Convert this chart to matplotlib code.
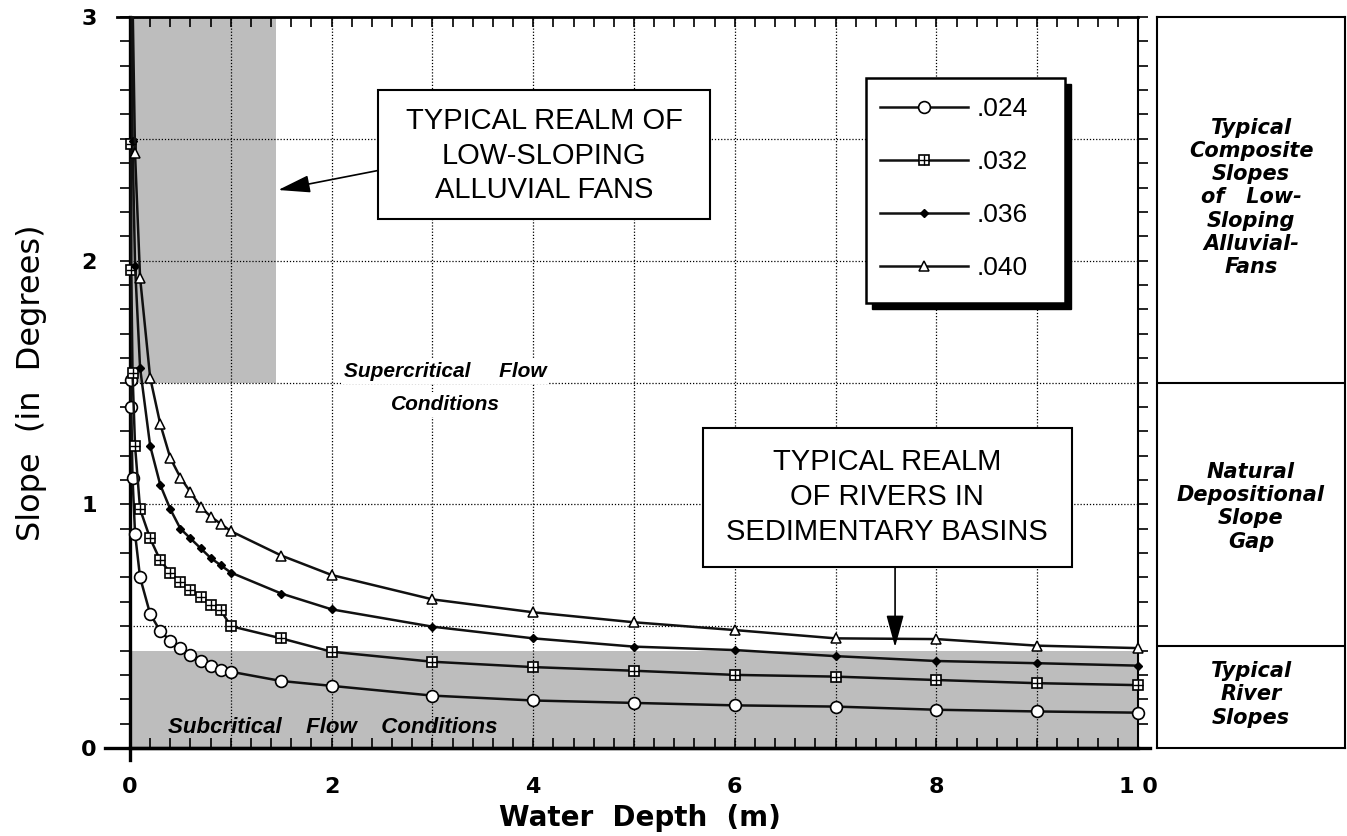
import matplotlib
matplotlib.use('Agg')
import matplotlib.pyplot as plt
from matplotlib.patches import Rectangle
from matplotlib.ticker import FixedLocator, FixedFormatter, MultipleLocator
from matplotlib.legend_handler import HandlerTuple

# water depth (m) of the computed points
depth = [0.01, 0.0125, 0.025, 0.05, 0.1, 0.2, 0.3, 0.4, 0.5, 0.6, 0.7, 0.8, 0.9, 1.0,
         1.5, 2, 3, 4, 5, 6, 7, 8, 9, 10]

# slope (degrees), one list per roughness n
slope_024 = [1.51, 1.40, 1.11, 0.88, 0.70, 0.55, 0.48, 0.44, 0.41, 0.38, 0.355, 0.335, 0.32, 0.313,
             0.275, 0.255, 0.215, 0.195, 0.185, 0.175, 0.17, 0.157, 0.15, 0.145]
slope_032 = [2.48, 1.96, 1.54, 1.24, 0.98, 0.86, 0.77, 0.72, 0.68, 0.65, 0.62, 0.585, 0.566, 0.50,
             0.45, 0.395, 0.354, 0.332, 0.317, 0.30, 0.293, 0.279, 0.266, 0.258]
slope_036 = [3.39, 3.14, 2.49, 1.98, 1.56, 1.24, 1.08, 0.98, 0.90, 0.86, 0.82, 0.78, 0.75, 0.72,
             0.634, 0.569, 0.498, 0.45, 0.416, 0.402, 0.377, 0.357, 0.348, 0.338]
slope_040 = [4.17, 3.87, 3.08, 2.44, 1.93, 1.52, 1.33, 1.19, 1.11, 1.05, 0.99, 0.95, 0.92, 0.89,
             0.79, 0.71, 0.61, 0.557, 0.516, 0.484, 0.45, 0.447, 0.42, 0.41]
legend_labels = ['.024', '.032', '.036', '.040']

# realms
fan_depth_max = 1.45
fan_slope_min = 1.5
river_slope_max = 0.4
gap_top = 1.5
gap_bottom = 0.42

x_ticks = [0, 1, 2, 3, 4, 5, 6, 7, 8, 9, 10]
x_ticklabels = ['0', '', '2', '', '4', '', '6', '', '8', '', '1 0']
y_ticks = [0, 0.5, 1, 1.5, 2, 2.5, 3]
y_ticklabels = ['0', '', '1', '', '2', '', '3']

W, H = 1347, 836
fig = plt.figure(figsize=(W / 100, H / 100), dpi=100)
ax = fig.add_axes([130 / W, 1 - 748 / H, 1008 / W, 731 / H])
panel = fig.add_axes([1157 / W, 1 - 748 / H, 188 / W, 731 / H])

gray = '#bdbdbd'
ax.fill_between([0, fan_depth_max], fan_slope_min, 3, color=gray, lw=0, zorder=0.8)
ax.axhspan(0, river_slope_max, color=gray, lw=0, zorder=0.8)

clip = Rectangle((-0.02, -0.01), 1.05, 1.012, transform=ax.transAxes)

line_kw = dict(color='#111111', lw=1.8, zorder=3)
l1, = ax.plot(depth, slope_024, marker='o', ms=8.5, mfc='white', mec='black', mew=1.2, **line_kw)
l2, = ax.plot(depth, slope_032, marker='s', ms=7.5, mfc='white', mec='black', mew=1.2, **line_kw)
l2b, = ax.plot(depth, slope_032, ls='none', marker='+', ms=7, mec='black', mew=1.0, zorder=3.1)
l3, = ax.plot(depth, slope_036, marker='D', ms=4.5, mfc='black', mec='black', **line_kw)
l4, = ax.plot(depth, slope_040, marker='^', ms=6.5, mfc='white', mec='black', mew=1.1, **line_kw)
for ln in (l1, l2, l2b, l3, l4):
    ln.set_clip_path(clip)

ax.set_xlim(0, 10)
ax.set_ylim(0, 3)

ax.xaxis.set_major_locator(FixedLocator(x_ticks))
ax.xaxis.set_major_formatter(FixedFormatter(x_ticklabels))
ax.xaxis.set_minor_locator(MultipleLocator(0.2))
ax.yaxis.set_major_locator(FixedLocator(y_ticks))
ax.yaxis.set_major_formatter(FixedFormatter(y_ticklabels))
ax.yaxis.set_minor_locator(MultipleLocator(0.1))

ax.tick_params(axis='x', which='both', direction='in', top=True, length=7, width=1.2,
               pad=21, labelsize=16)
ax.tick_params(axis='y', which='both', direction='out', right=True, length=7, width=1.2,
               pad=17, labelsize=16)
for lab in ax.get_xticklabels() + ax.get_yticklabels():
    lab.set_fontweight('bold')
    lab.set_family('DejaVu Sans')

ax.grid(which='major', color='black', linestyle=(0, (1, 1.5)), linewidth=0.9)

ax.spines['left'].set_linewidth(2.4)
ax.spines['bottom'].set_linewidth(2.4)
ax.spines['top'].set_linewidth(2.0)
ax.spines['right'].set_linewidth(1.5)
# axis lines running past the frame corners
ax.plot([-0.025, 1.012], [0, 0], color='black', lw=2.4, transform=ax.transAxes, clip_on=False)
ax.plot([-0.013, 0], [1, 1], color='black', lw=2.0, transform=ax.transAxes, clip_on=False)
ax.plot([0, 0], [-0.016, 0], color='black', lw=2.4, transform=ax.transAxes, clip_on=False)

ax.set_xlabel('Water  Depth  (m)', fontsize=20, fontweight='bold', family='DejaVu Sans')
ax.set_ylabel('Slope  (in  Degrees)', fontsize=23, family='DejaVu Sans')
ax.xaxis.set_label_coords(0.506, -0.076)
ax.yaxis.set_label_coords(-0.082, 0.5)

# boxed notes
box_font = dict(family='Liberation Sans', fontsize=21, ha='center', va='center',
                linespacing=1.3, zorder=6)
ax.add_patch(Rectangle((2.46, 2.17), 3.29, 0.53, fc='white', ec='black', lw=1.5, zorder=5))
ax.text(4.11, 2.43, 'TYPICAL REALM OF\nLOW-SLOPING\nALLUVIAL FANS', **box_font)
ax.annotate('', xy=(1.47, 2.29), xytext=(2.46, 2.37),
            arrowprops=dict(arrowstyle='-|>,head_length=1.1,head_width=0.3', color='black',
                            lw=1.2, mutation_scale=18, shrinkA=0, shrinkB=0), zorder=6)

ax.add_patch(Rectangle((5.68, 0.743), 3.67, 0.57, fc='white', ec='black', lw=1.5, zorder=5))
ax.text(7.51, 1.03, 'TYPICAL REALM\nOF RIVERS IN\nSEDIMENTARY BASINS', **box_font)
ax.annotate('', xy=(7.59, 0.414), xytext=(7.59, 0.743),
            arrowprops=dict(arrowstyle='-|>,head_length=1.1,head_width=0.3', color='black',
                            lw=1.2, mutation_scale=18, shrinkA=0, shrinkB=0), zorder=6)

# flow regime notes
it_font = dict(family='Liberation Sans', fontstyle='italic', fontweight='bold', zorder=4)
ax.text(3.125, 1.522, 'Supercritical     Flow', ha='center', va='baseline', fontsize=15,
        bbox=dict(fc='white', ec='none', pad=2), **it_font)
ax.text(3.125, 1.387, 'Conditions', ha='center', va='baseline', fontsize=15,
        bbox=dict(fc='white', ec='none', pad=2), **it_font)
ax.text(0.377, 0.06, 'Subcritical    Flow    Conditions', ha='left', va='baseline',
        fontsize=16, **it_font)

# legend with shadowed frame
lx0, lx1, ly0, ly1 = 0.730, 0.928, 0.609, 0.917
ax.add_patch(Rectangle((lx0 + 0.006, ly0 - 0.008), lx1 - lx0, ly1 - ly0, transform=ax.transAxes,
                       fc='black', ec='black', zorder=7))
ax.add_patch(Rectangle((lx0, ly0), lx1 - lx0, ly1 - ly0, transform=ax.transAxes,
                       fc='white', ec='black', lw=1.8, zorder=7.1))
leg = ax.legend([l1, (l2, l2b), l3, l4], legend_labels, loc='upper left',
                bbox_to_anchor=(lx0 + 0.004, ly1 - 0.012), frameon=False,
                prop=dict(family='Liberation Sans', size=19), handlelength=3.3,
                handletextpad=0.35, labelspacing=1.1, borderaxespad=0, numpoints=1,
                handler_map={tuple: HandlerTuple(ndivide=1)})
leg.set_zorder(8)

# right hand slope class panel
panel.set_xlim(0, 1)
panel.set_ylim(0, 3)
panel.set_xticks([])
panel.set_yticks([])
for sp in panel.spines.values():
    sp.set_linewidth(1.5)
panel.axhline(gap_top, color='black', lw=1.5)
panel.axhline(gap_bottom, color='black', lw=1.5)
pan_font = dict(family='DejaVu Sans', fontstyle='oblique', fontweight='bold', fontsize=15,
                ha='center', va='center', linespacing=1.2)
panel.text(0.5, 2.26, 'Typical\nComposite\nSlopes\nof   Low-\nSloping\nAlluvial-\nFans', **pan_font)
panel.text(0.5, 0.99, 'Natural\nDepositional\nSlope\nGap', **pan_font)
panel.text(0.5, 0.22, 'Typical\nRiver\nSlopes', **pan_font)

fig.savefig('out.png', dpi=100)
